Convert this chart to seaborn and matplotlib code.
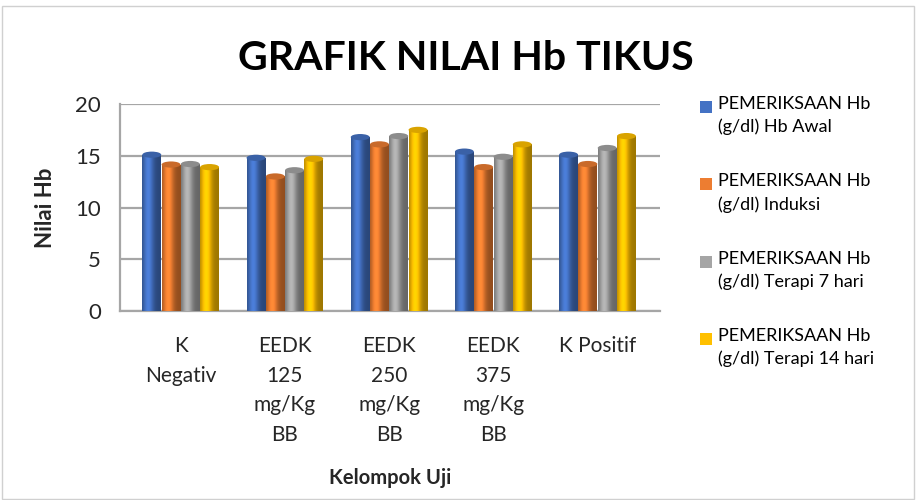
import numpy as np
import pandas as pd
import matplotlib
matplotlib.use("Agg")
import matplotlib.pyplot as plt
import seaborn as sns
from matplotlib.colors import to_rgb
from matplotlib.patches import Ellipse, Rectangle

groups = ["K\nNegativ", "EEDK\n125\nmg/Kg\nBB", "EEDK\n250\nmg/Kg\nBB", "EEDK\n375\nmg/Kg\nBB", "K Positif"]
series = [
    "PEMERIKSAAN Hb\n(g/dl) Hb Awal",
    "PEMERIKSAAN Hb\n(g/dl) Induksi",
    "PEMERIKSAAN Hb\n(g/dl) Terapi 7 hari",
    "PEMERIKSAAN Hb\n(g/dl) Terapi 14 hari",
]
hb_awal = [15.1, 14.8, 16.8, 15.4, 15.1]
hb_induksi = [14.15, 13.0, 16.1, 13.9, 14.2]
hb_terapi7 = [14.2, 13.6, 16.9, 14.9, 15.75]
hb_terapi14 = [13.9, 14.7, 17.5, 16.1, 16.9]
colors = ["#4472C4", "#ED7D31", "#A5A5A5", "#FFC000"]

rows = []
for name, vals in zip(series, [hb_awal, hb_induksi, hb_terapi7, hb_terapi14]):
    for g, v in zip(groups, vals):
        rows.append({"kelompok": g, "seri": name, "nilai": v})
df = pd.DataFrame(rows)

sns.set_theme(style="white")
plt.rcParams["font.family"] = ["Lato", "DejaVu Sans"]

fig = plt.figure(figsize=(9.18, 5.0), dpi=100)
ax = fig.add_axes([0.131, 0.378, 0.588, 0.414])
sns.barplot(data=df, x="kelompok", y="nilai", hue="seri", palette=colors,
            width=0.74, gap=0.02, ax=ax, legend=False, zorder=3, saturation=1)

# cylinder-like shading for each bar
t = np.linspace(0, 1, 64)
profile = 0.62 + 0.5 * np.exp(-((t - 0.33) / 0.28) ** 2)
for patch in ax.patches:
    base = np.array(to_rgb(patch.get_facecolor()))
    img = np.clip(base[None, None, :] * profile[None, :, None], 0, 1)
    x0 = patch.get_x()
    w = patch.get_width()
    h = patch.get_height()
    im = ax.imshow(img, extent=[x0, x0 + w, 0, h], aspect="auto",
                   interpolation="bicubic", zorder=3.5)
    im.set_clip_path(patch)
    patch.set_edgecolor("none")
    ax.add_patch(Ellipse((x0 + w / 2, h), w, 0.6, facecolor=base * 0.85,
                         edgecolor="none", zorder=4))

ax.set_xlim(-0.58, 4.6)
ax.set_ylim(0, 20)
ax.set_yticks([0, 5, 10, 15, 20])
ax.yaxis.grid(True, color="#a6a6a6", linewidth=1.6, zorder=0)
ax.set_axisbelow(True)
for side in ["top", "right"]:
    ax.spines[side].set_visible(False)
for side in ["left", "bottom"]:
    ax.spines[side].set_color("#a6a6a6")
    ax.spines[side].set_linewidth(1.6)
ax.tick_params(axis="y", length=6, width=1.6, color="#a6a6a6", labelsize=16, pad=8)
ax.tick_params(axis="x", length=0, labelsize=15, pad=18)
for lbl in ax.get_xticklabels():
    lbl.set_linespacing(1.6)
    lbl.set_verticalalignment("top")

ax.set_xlabel("Kelompok Uji", fontsize=14.5, fontweight="bold", labelpad=17)
ax.set_ylabel("Nilai Hb", fontsize=16, fontweight="bold", labelpad=14)
fig.text(0.508, 0.882, "GRAFIK NILAI Hb TIKUS", ha="center", va="center",
         fontsize=29.5, fontweight="bold", color="black")

# legend: square aligned with the first text line, as in the reference
for i, (name, c) in enumerate(zip(series, colors)):
    yc = 107 + 77.3 * i
    fig.patches.append(Rectangle((700 / 918, 1 - (yc + 6) / 500), 12 / 918, 12 / 500,
                                 transform=fig.transFigure, facecolor=c, edgecolor="none"))
    fig.text(718 / 918, 1 - (yc - 11) / 500, name, ha="left", va="top",
             fontsize=13, linespacing=1.5, color="black")

fig.patches.append(Rectangle((0.002, 0.002), 0.994, 0.986, transform=fig.transFigure,
                             fill=False, edgecolor="#d0d0d0", linewidth=1))

fig.savefig("out.png", dpi=100)
